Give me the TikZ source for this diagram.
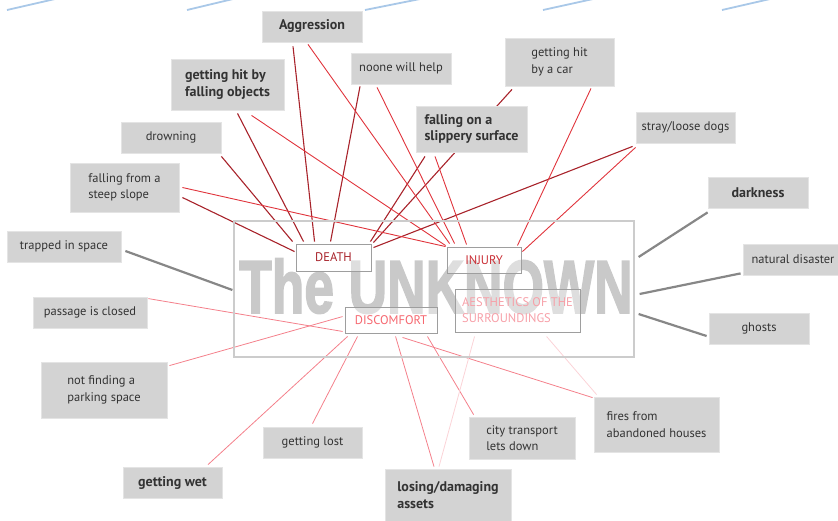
\documentclass[tikz,border=0pt]{standalone}
\usepackage{fontspec}
\setmainfont{PT Sans}
\newfontfamily\titlefont[UprightFont={* Bold}, FakeBold=2.5]{Liberation Sans}
\usetikzlibrary{positioning, calc, backgrounds}

\definecolor{boxgray}{HTML}{D3D3D3}
\definecolor{boxline}{HTML}{E4E4E4}
\definecolor{txt}{HTML}{333333}
\definecolor{deathred}{HTML}{A8232B}
\definecolor{injuryred}{HTML}{E0343C}
\definecolor{discpink}{HTML}{F4808B}
\definecolor{aesthpink}{HTML}{FBD3D7}
\definecolor{topblue}{HTML}{A9C8E8}

\begin{document}
\begin{tikzpicture}[x=1pt, y=-1pt,
      fear/.style = {shape=rectangle, draw=boxline, line width=0.8pt,
        fill=boxgray, text=txt, align=left, inner sep=0pt,
        font=\fontsize{12.5}{16.5}\selectfont, minimum height=31pt
      },
      boldfear/.style = {fear, font=\fontsize{14}{16.5}\selectfont\bfseries},
      kind/.style = {shape=rectangle, draw=black!38, line width=0.9pt,
        fill=white, fill opacity=0.4, text opacity=1, align=left,
        inner sep=0pt, font=\fontsize{12.5}{16}\selectfont
      },
      frame/.style = {shape=rectangle, draw=black!20, line width=1.2pt},
      title/.style = {font=\titlefont\fontsize{75}{75}\selectfont,
        text=black!21, inner sep=0pt, xscale=0.71, transform shape},
      todeath/.style = {draw=deathred, line width=1.1pt},
      toinjury/.style = {draw=injuryred, line width=0.9pt},
      todiscomfort/.style = {draw=discpink, line width=0.8pt},
      toaesth/.style = {draw=aesthpink, line width=0.8pt},
      tounknown/.style = {draw=black!47, line width=2.2pt},
      topline/.style = {draw=topblue, line width=1.8pt}
    ]
    \useasboundingbox (0,0) rectangle (838,520);

    % cut-off strokes along the top edge
    \draw[topline] (7,10) -- (55,-1);
    \draw[topline] (187,10) -- (233,-1);
    \draw[topline] (365,10) -- (420,-1);
    \draw[topline] (543,10) -- (593,-1);
    \draw[topline] (722,10) -- (770,-1);

    % centre
    \node[title] (title) at (436,286) {The UNKNOWN};
    \node[frame, minimum width=400pt, minimum height=136pt] (unknown) at (434,289) {};
    \node[kind, text=deathred, minimum width=75pt, minimum height=27pt] (death) at (333.5,257.5) {DEATH};
    \node[kind, text=injuryred!90!black, minimum width=74pt, minimum height=26pt] (injury) at (484,260) {INJURY};
    \node[kind, text=discpink!80!red, minimum width=92pt, minimum height=26pt] (discomfort) at (391,320) {DISCOMFORT};
    \node[kind, text=discpink!75!white, minimum width=125pt, minimum height=43pt] (aesth) at (517.5,310.5) {AESTHETICS OF THE\\SURROUNDINGS};

    % fears
    \node[boldfear, minimum width=100pt] (aggr) at (312,26.5) {Aggression};
    \node[boldfear, minimum width=113pt, minimum height=51pt] (fallobj) at (227.5,84.5) {getting hit by\\falling objects};
    \node[fear, minimum width=100pt] (drown) at (171,137.5) {drowning};
    \node[fear, minimum width=109pt, minimum height=49pt] (slope) at (124.5,187.5) {falling from a\\steep slope};
    \node[fear, minimum width=114pt] (trapped) at (64,246.5) {trapped in space};
    \node[fear, minimum width=100pt] (noone) at (401,68.5) {noone will help};
    \node[fear, minimum width=109pt, minimum height=48pt] (car) at (559.5,62) {getting hit\\by a car};
    \node[boldfear, minimum width=111pt, minimum height=46pt] (slip) at (471.5,129) {falling on a\\slippery surface};
    \node[fear, minimum width=99pt] (dogs) at (685.5,127.5) {stray/loose dogs};
    \node[boldfear, minimum width=100pt] (dark) at (758,192.5) {darkness};
    \node[fear, minimum width=100pt] (natural) at (793,259.5) {natural disaster};
    \node[fear, minimum width=100pt] (ghosts) at (759,328.5) {ghosts};
    \node[fear, minimum width=114pt] (passage) at (90,312.5) {passage is closed};
    \node[fear, minimum width=126pt, minimum height=56pt] (parking) at (104,390) {not finding a\\parking space};
    \node[fear, minimum width=99pt] (lost) at (312.5,442.5) {getting lost};
    \node[boldfear, minimum width=99pt] (wet) at (172.5,482.5) {getting wet};
    \node[boldfear, minimum width=126pt, minimum height=52pt] (assets) at (448,495) {losing/damaging\\assets};
    \node[fear, minimum width=106pt, minimum height=42pt] (transport) at (522,438) {city transport\\lets down};
    \node[fear, minimum width=125pt, minimum height=55pt] (fires) at (656.5,424.5) {fires from\\abandoned houses};

    \begin{scope}[on background layer]
    % DEATH
    \draw[todeath] ($(slope.east)+(3,10)$) -- ($(death.north west)+(-1,8)$);
    \draw[todeath] ($(drown.south east)+(0,3)$) -- ($(death.north west)+(-3,-2)$);
    \draw[todeath] ($(fallobj.south)+(10,3)$) -- ($(death.north west)+(8,-2)$);
    \draw[todeath] ($(aggr.south)+(-19,4)$) -- ($(death.north west)+(19,-2)$);
    \draw[todeath] ($(noone.south)+(-41,2)$) -- ($(death.north west)+(35,-2)$);
    \draw[todeath] ($(slip.south)+(-46.5,4)$) -- ($(death.north east)+(-1,-2)$);
    \draw[todeath] ($(car.south)+(-47.5,3)$) -- ($(death.north east)+(2,-1)$);
    \draw[todeath] ($(dogs.south west)+(-3,3)$) -- ($(death.north east)+(2,4)$);
    % INJURY
    \draw[toinjury] ($(slope.east)+(3,0)$) -- ($(injury.north west)+(-1,0)$);
    \draw[toinjury] ($(fallobj.south)+(24,5)$) -- ($(injury.north west)+(-1,-1)$);
    \draw[toinjury] ($(aggr.south)+(-4,2)$) -- ($(injury.north west)+(3,-3)$);
    \draw[toinjury] ($(noone.south)+(-24,3)$) -- ($(injury.north west)+(8,-3)$);
    \draw[toinjury] ($(slip.south)+(-36.5,4)$) -- ($(injury.north west)+(20,-2)$);
    \draw[toinjury] ($(car.south)+(31.5,2)$) -- ($(injury.north east)+(-4,-1)$);
    \draw[toinjury] ($(dogs.south west)+(0,4)$) -- ($(injury.north east)+(1,5)$);
    % DISCOMFORT
    \draw[todiscomfort] ($(passage.north east)+(1,2)$) -- ($(discomfort.south west)+(-2,-2)$);
    \draw[todiscomfort] ($(parking.north east)+(2,4)$) -- ($(discomfort.north west)+(-2,10)$);
    \draw[todiscomfort] ($(wet.north)+(35.5,-2)$) -- ($(discomfort.south west)+(3,3)$);
    \draw[todiscomfort] ($(lost.north)+(0,-3)$) -- ($(discomfort.south west)+(13,3)$);
    \draw[todiscomfort] ($(assets.north)+(-14,-2)$) -- ($(discomfort.south west)+(51,3)$);
    \draw[todiscomfort] ($(fires.north west)+(-1,1)$) -- ($(discomfort.south west)+(58,4)$);
    \draw[todiscomfort] ($(transport.north west)+(5,-2)$) -- ($(discomfort.south east)+(-10,3)$);
    % AESTHETICS
    \draw[toaesth] ($(assets.north)+(-9,-2)$) -- ($(aesth.south west)+(20,4)$);
    \draw[toaesth] ($(fires.north west)+(3,-2)$) -- ($(aesth.south west)+(92,4)$);
    % the unknown
    \draw[tounknown] ($(trapped.east)+(4,4.5)$) -- ($(unknown.west)+(-1,1)$);
    \draw[tounknown] ($(dark.south west)+(0,4)$) -- ($(unknown.east)+(4,-32)$);
    \draw[tounknown] ($(natural.south west)+(-2,-2)$) -- ($(unknown.east)+(5,5)$);
    \draw[tounknown] ($(ghosts.west)+(-2,7.5)$) -- ($(unknown.east)+(4,25)$);
    \end{scope}
\end{tikzpicture}
\end{document}
